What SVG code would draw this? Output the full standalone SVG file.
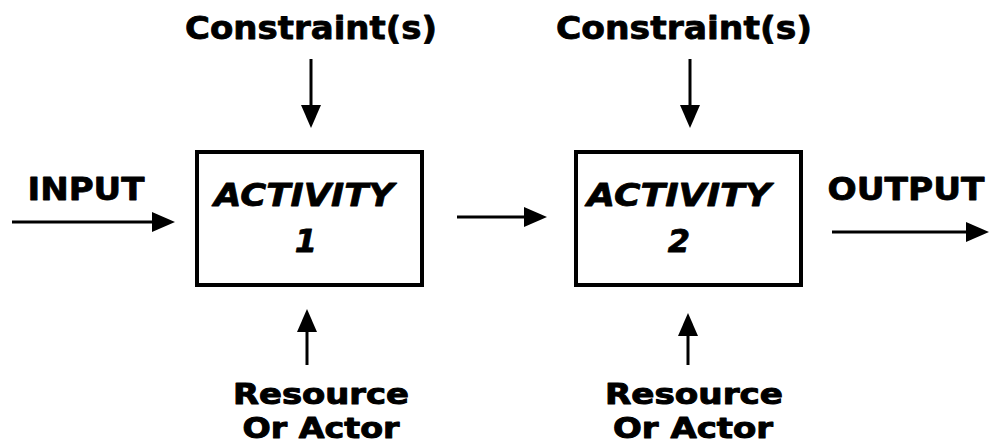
<svg xmlns="http://www.w3.org/2000/svg" width="990" height="446" viewBox="0 0 990 446">
  <style>
    .box { fill: #ffffff; stroke: #000000; stroke-width: 4; }
    .lbl { font-family: "DejaVu Sans", "Liberation Sans", Arial, sans-serif; font-weight: bold; font-size: 32px; fill: #000000; stroke: #000000; stroke-width: 0.8; stroke-linejoin: round; text-anchor: middle; }
    .sm { font-size: 29px; stroke-width: 1; }
    .act { font-style: italic; }
    .wire { stroke: #000000; stroke-width: 3; fill: none; marker-end: url(#head); }
  </style>
  <defs>
    <marker id="head" markerUnits="userSpaceOnUse" markerWidth="23" markerHeight="20" refX="11" refY="10" orient="auto">
      <path d="M0,0 L23,10 L0,20 Z" fill="#000000"/>
    </marker>
  </defs>
  <rect width="990" height="446" fill="#ffffff"/>

  <g id="activity1">
    <rect class="box" x="197" y="152" width="225" height="133"/>
    <text class="lbl act" x="304" y="206" textLength="180" lengthAdjust="spacingAndGlyphs">ACTIVITY</text>
    <text class="lbl act" x="306" y="252">1</text>
  </g>

  <g id="activity2">
    <rect class="box" x="576" y="152" width="225" height="133"/>
    <text class="lbl act" x="679" y="206" textLength="184" lengthAdjust="spacingAndGlyphs">ACTIVITY</text>
    <text class="lbl act" x="679" y="252">2</text>
  </g>

  <g id="constraint1">
    <text class="lbl" x="311" y="39" textLength="252" lengthAdjust="spacingAndGlyphs">Constraint(s)</text>
  </g>
  <g id="constraint2">
    <text class="lbl" x="684" y="39" textLength="256" lengthAdjust="spacingAndGlyphs">Constraint(s)</text>
  </g>

  <g id="input">
    <text class="lbl" x="86" y="200" textLength="117" lengthAdjust="spacingAndGlyphs">INPUT</text>
  </g>
  <g id="output">
    <text class="lbl" x="906" y="200" textLength="157" lengthAdjust="spacingAndGlyphs">OUTPUT</text>
  </g>

  <g id="resource1">
    <text class="lbl sm" x="321" y="404" textLength="176" lengthAdjust="spacingAndGlyphs">Resource</text>
    <text class="lbl sm" x="321" y="438" textLength="157" lengthAdjust="spacingAndGlyphs">Or Actor</text>
  </g>
  <g id="resource2">
    <text class="lbl sm" x="694" y="404" textLength="178" lengthAdjust="spacingAndGlyphs">Resource</text>
    <text class="lbl sm" x="693" y="438" textLength="160" lengthAdjust="spacingAndGlyphs">Or Actor</text>
  </g>

  <g id="connectors">
    <line class="wire" x1="12" y1="222" x2="163" y2="222"/>
    <line class="wire" x1="457" y1="217" x2="535" y2="217"/>
    <line class="wire" x1="832" y1="232" x2="977" y2="232"/>
    <line class="wire" x1="311" y1="59" x2="311" y2="116"/>
    <line class="wire" x1="690" y1="59" x2="690" y2="116"/>
    <line class="wire" x1="307" y1="365" x2="307" y2="321"/>
    <line class="wire" x1="688" y1="365" x2="688" y2="325"/>
  </g>
</svg>
